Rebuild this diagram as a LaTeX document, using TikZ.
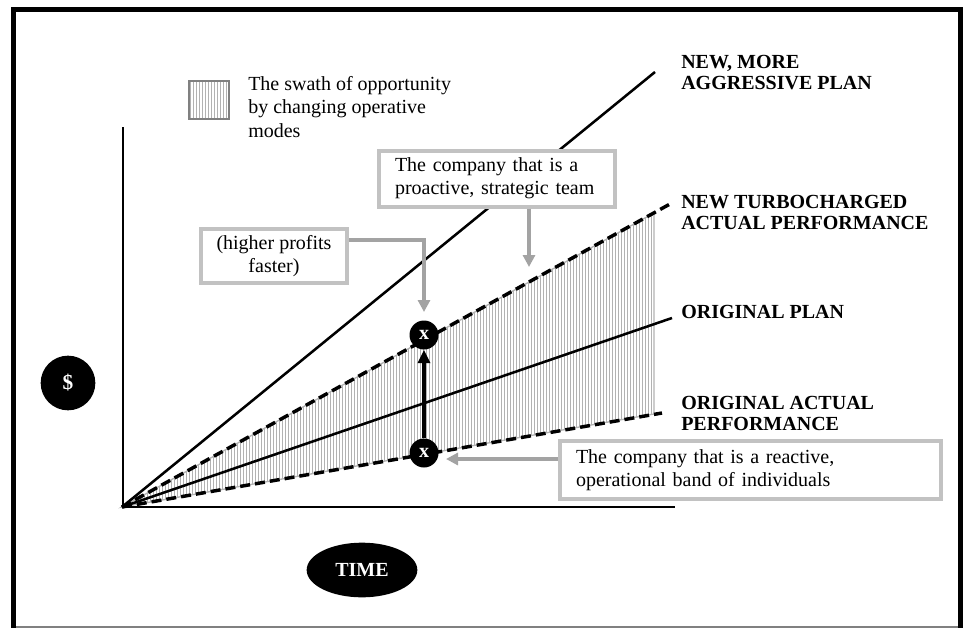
\documentclass[tikz,border=0pt]{standalone}
\usepackage{fontspec}
\setmainfont{Liberation Serif}
\usetikzlibrary{arrows.meta,shapes.geometric}
\definecolor{boxgray}{gray}{0.76}
\definecolor{arrgray}{gray}{0.64}
\definecolor{stripegray}{gray}{0.70}
\begin{document}
\begin{tikzpicture}[x=0.75pt,y=-0.75pt,
  txt/.style={font=\fontsize{15}{17.5}\selectfont, inner sep=0pt},
  lbl/.style={font=\fontsize{15}{15.75}\selectfont\bfseries, anchor=west, align=left, inner sep=0pt},
  notebox/.style={draw=boxgray, line width=3pt, fill=white, font=\fontsize{15}{17.25}\selectfont, inner sep=0pt},
  garrow/.style={draw=arrgray, line width=2.6pt, -{Triangle[length=9pt,width=9pt]}},
  xmark/.style={circle, fill=black, text=white, minimum size=21.75pt, inner sep=0pt, font=\fontsize{15}{15}\selectfont\bfseries},
  plan/.style={line width=1.9pt},
  actual/.style={line width=2.6pt, dash pattern=on 7.5pt off 3.75pt},
]
\useasboundingbox (0,0) rectangle (965,628);

% page frame
\draw[line width=3.75pt] (13.5,628) -- (13.5,9.5) -- (960,9.5) -- (960,628);
\draw[gray, line width=1.2pt] (16,627) -- (958,627);

% key points of the chart
\coordinate (O) at (122,507);
\coordinate (aggEnd) at (655,72);
\coordinate (turboEnd) at (670,204);
\coordinate (turboEdge) at (654,213);
\coordinate (planEnd) at (672,318);
\coordinate (actEnd) at (662,413);
\coordinate (actEdge) at (654,414);

% striped swath between the two actual-performance lines
\begin{scope}
  \clip (O) -- (turboEdge) -- (actEdge) -- cycle;
  \foreach \i in {0,...,180} {
    \draw[stripegray, line width=0.75pt] ({123+3*\i},200) -- ({123+3*\i},510);
  }
\end{scope}
\draw[stripegray, line width=1pt] (O) -- (turboEdge) -- (actEdge) -- cycle;

% axes
\draw[line width=2pt] (123,127) -- (123,507) -- (675,507);

% performance lines
\draw[plan] (O) -- (aggEnd);
\draw[plan] (O) -- (planEnd);
\draw[actual] (O) -- (turboEnd);
\draw[actual] (O) -- (actEnd);

% line labels
\node[lbl] (lAgg) at (681,72.5) {NEW, MORE\\AGGRESSIVE PLAN};
\node[lbl] (lTurbo) at (681,212.5) {NEW TURBOCHARGED\\ACTUAL PERFORMANCE};
\node[lbl] (lPlan) at (681,312) {ORIGINAL PLAN};
\node[lbl] (lAct) at (681,413) {ORIGINAL ACTUAL\\PERFORMANCE};

% legend
\begin{scope}
  \clip (189,81) rectangle (229,119);
  \foreach \i in {0,...,13} {
    \draw[stripegray, line width=0.75pt] ({190+3*\i},80) -- ({190+3*\i},120);
  }
\end{scope}
\node[draw=gray, line width=1.1pt, minimum width=30pt, minimum height=28.5pt, inner sep=0pt] (key) at (209,100) {};
\node[txt, anchor=north west, align=left] (keytext) at (248,76) {The swath of opportunity\\by changing operative\\modes};

% axis badges
\node[circle, fill=black, text=white, minimum size=41pt, inner sep=0pt, font=\fontsize{16}{16}\selectfont\bfseries] (dollar) at (68,383) {\$};
\node[ellipse, fill=black, text=white, minimum width=83pt, minimum height=41pt, inner sep=0pt, font=\fontsize{15}{15}\selectfont\bfseries] (time) at (362,570) {TIME};

% the two operating points
\node[xmark] (lowX) at (424,453) {x};
\node[xmark] (highX) at (424,335) {x};
\draw[line width=2.4pt, -{Triangle[length=10pt,width=9pt]}] (lowX) -- (highX);

% callout boxes
\node[notebox, anchor=west, text width=262pt, align=left, inner xsep=12pt, minimum height=44pt] (reactive) at (558,470) {The company that is a reactive,\\operational band of individuals};
\node[notebox, anchor=west, text width=153pt, align=left, inner xsep=12pt, minimum height=42pt] (proactive) at (377,178.5) {The company that is a\\proactive, strategic team};
\node[notebox, minimum width=110pt, minimum height=40pt, align=center] (faster) at (274,256) {(higher profits\\faster)};

% callout arrows
\coordinate (lowTip) at (446,459);
\coordinate (highTip) at (424,312);
\coordinate (swathTip) at (529,267);
\draw[garrow] ([yshift=8.25pt]reactive.west) -- (lowTip);
\draw[garrow] ([yshift=12pt]faster.east) -| (highTip);
\draw[garrow] (proactive.south -| swathTip) -- (swathTip);
\end{tikzpicture}
\end{document}
